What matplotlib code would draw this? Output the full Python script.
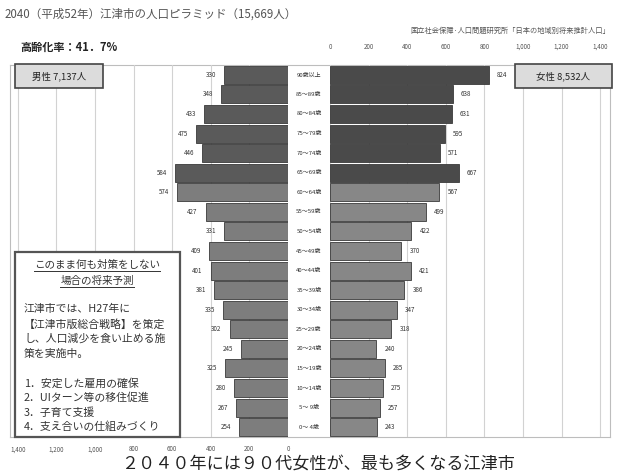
import matplotlib.pyplot as plt
from matplotlib.patches import Rectangle
from matplotlib.lines import Line2D

plt.rcParams['font.family'] = ['Noto Sans CJK JP', 'DejaVu Sans']

# age groups from oldest (top) to youngest (bottom)
ages = ['90歳以上', '85～89歳', '80～84歳', '75～79歳', '70～74歳', '65～69歳',
        '60～64歳', '55～59歳', '50～54歳', '45～49歳', '40～44歳', '35～39歳',
        '30～34歳', '25～29歳', '20～24歳', '15～19歳', '10～14歳', '5～ 9歳', '0～ 4歳']
male = [330, 348, 433, 475, 446, 584, 574, 427, 331, 409, 401, 381, 335, 302,
        245, 325, 280, 267, 254]
female = [824, 638, 631, 595, 571, 667, 567, 499, 422, 370, 421, 386, 347, 318,
          240, 285, 275, 257, 243]
n_old = 6  # 65歳以上 rows drawn darker
ticks = [0, 200, 400, 600, 800, 1000, 1200, 1400]
tick_labels = ['0', '200', '400', '600', '800', '1,000', '1,200', '1,400']

W, H = 621, 473
fig = plt.figure(figsize=(W / 100, H / 100), dpi=100)


def box(x0, y0, x1, y1):
    # pixel box (top-left origin) -> figure rect
    return [x0 / W, 1 - y1 / H, (x1 - x0) / W, (y1 - y0) / H]


def fy(py):
    return 1 - py / H


frame = fig.add_axes(box(10, 65, 610, 437))
frame.set_xticks([])
frame.set_yticks([])
for s in frame.spines.values():
    s.set_color('#bdbdbd')
    s.set_linewidth(0.8)

ax_m = fig.add_axes(box(10, 65, 288, 437))
ax_f = fig.add_axes(box(330, 65, 610, 437))
y = list(range(len(ages)))

cm = ['#5a5a5a'] * n_old + ['#7d7d7d'] * (len(ages) - n_old)
cf = ['#4a4a4a'] * n_old + ['#878787'] * (len(ages) - n_old)
ax_m.barh(y, male, height=0.92, color=cm, edgecolor='#3a3a3a', linewidth=0.6, zorder=3)
ax_f.barh(y, female, height=0.92, color=cf, edgecolor='#3a3a3a', linewidth=0.6, zorder=3)

ax_m.set_xlim(1440, 0)
ax_f.set_xlim(0, 1451)
for ax in (ax_m, ax_f):
    ax.patch.set_visible(False)
    ax.set_ylim(len(ages) - 0.5, -0.5)
    ax.set_yticks([])
    ax.set_xticks(ticks)
    ax.set_xticklabels(tick_labels)
    ax.grid(axis='x', color='#d2d2d2', linewidth=0.8, zorder=0)
    ax.tick_params(length=0, labelsize=4.5, colors='#555555')
    for s in ax.spines.values():
        s.set_visible(False)
ax_m.tick_params(pad=6)
ax_f.xaxis.tick_top()
ax_f.tick_params(pad=10)

for i, v in enumerate(male):
    ax_m.annotate(str(v), (v, i), xytext=(-8, 0), textcoords='offset pixels',
                  ha='right', va='center', fontsize=4.5, color='#333333')
for i, v in enumerate(female):
    ax_f.annotate(str(v), (v, i), xytext=(8, 0), textcoords='offset pixels',
                  ha='left', va='center', fontsize=4.5, color='#333333')
    ax_f.annotate(ages[i], (0, i), xytext=(-21, 0), textcoords='offset pixels',
                  ha='center', va='center', fontsize=4.3, color='#333333')

# titles
fig.text(5 / W, fy(14), '2040（平成52年）江津市の人口ピラミッド（15,669人）',
         fontsize=8.3, color='#555555', va='center')
fig.text(20 / W, fy(47), '高齢化率：41．7%', fontsize=8, fontweight='bold',
         color='#222222', va='center')
fig.text(610 / W, fy(31), '国立社会保障·人口問題研究所「日本の地域別将来推計人口」',
         fontsize=5.2, color='#555555', va='center', ha='right')

# male / female total boxes
for (x0, x1, label) in [(15, 103, '男性 7,137人'), (515, 612, '女性 8,532人')]:
    fig.add_artist(Rectangle((x0 / W, fy(88)), (x1 - x0) / W, 24 / H,
                             transform=fig.transFigure, fc='#dcdcdc', ec='#444444',
                             lw=1.2, zorder=5))
    fig.text((x0 + x1) / 2 / W, fy(76), label, fontsize=6.8, color='#222222',
             ha='center', va='center', zorder=6)

# note box
fig.add_artist(Rectangle((15 / W, fy(437)), 165 / W, 185 / H, transform=fig.transFigure,
                         fc='white', ec='#555555', lw=1.6, zorder=5))
heads = [('このまま何も対策をしない', 265), ('場合の将来予測', 281)]
body = [('江津市では、H27年に', 309), ('【江津市版総合戦略】を策定', 324),
        ('し、人口減少を食い止める施', 339), ('策を実施中。', 354),
        ('1．安定した雇用の確保', 383), ('2．UIターン等の移住促進', 398),
        ('3．子育て支援', 413), ('4．支え合いの仕組みづくり', 427)]
head_texts = []
for s, py in heads:
    head_texts.append(fig.text(97 / W, fy(py), s, fontsize=7.6, color='#333333',
                               ha='center', va='center', zorder=6))
for s, py in body:
    fig.text(24 / W, fy(py), s, fontsize=7.8, color='#333333', va='center', zorder=6)

fig.canvas.draw()
inv = fig.transFigure.inverted()
for t in head_texts:
    bb = t.get_window_extent().transformed(inv)
    fig.add_artist(Line2D([bb.x0, bb.x1], [bb.y0 - 0.002, bb.y0 - 0.002],
                          transform=fig.transFigure, color='#333333', lw=0.7, zorder=6))

# caption at the very bottom
fig.text(318 / W, fy(473), '２０４０年には９０代女性が、最も多くなる江津市',
         fontsize=12.3, color='#222222', ha='center', va='bottom')

fig.savefig('out.png', dpi=100)
